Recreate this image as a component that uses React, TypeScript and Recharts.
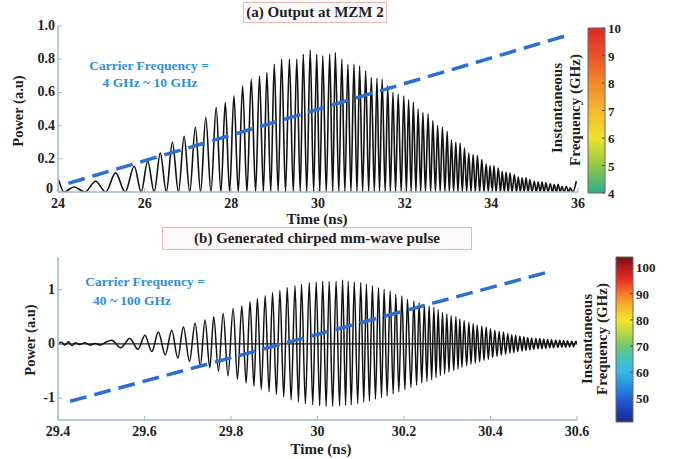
import React from 'react';
import { ComposedChart, Line, XAxis, YAxis, ReferenceLine, ReferenceArea } from 'recharts';

// ---------- Panel (a): Output at MZM 2 ----------
const xTicksA = [24, 26, 28, 30, 32, 34, 36];
const yTicksA = [0, 0.2, 0.4, 0.6, 0.8, 1.0];
const peakTimesA = [24.02, 24.37, 24.87, 25.33, 25.76, 26.07, 26.36, 26.64, 26.91, 27.17, 27.41, 27.65, 27.86, 28.06, 28.26, 28.46, 28.65, 28.82, 28.99, 29.16, 29.34, 29.51, 29.66, 29.82, 29.97, 30.11, 30.27, 30.40, 30.55, 30.69, 30.83, 30.96, 31.10, 31.23, 31.36, 31.48, 31.61, 31.73, 31.85, 31.98, 32.09, 32.20, 32.31, 32.42, 32.54, 32.65, 32.76, 32.87, 32.98, 33.08, 33.18, 33.28, 33.38, 33.48, 33.58, 33.68, 33.78, 33.88, 33.97, 34.06, 34.16, 34.25, 34.34, 34.43, 34.53, 34.62, 34.71, 34.80, 34.89, 34.99, 35.08, 35.17, 35.26, 35.36, 35.45, 35.54, 35.63, 35.73, 35.82, 35.96];
const peakPowerA = [0.07, 0.03, 0.065, 0.115, 0.155, 0.185, 0.235, 0.30, 0.335, 0.39, 0.45, 0.51, 0.54, 0.58, 0.64, 0.68, 0.70, 0.72, 0.77, 0.80, 0.80, 0.80, 0.83, 0.855, 0.83, 0.82, 0.83, 0.84, 0.80, 0.77, 0.77, 0.76, 0.73, 0.69, 0.685, 0.68, 0.64, 0.60, 0.59, 0.58, 0.555, 0.54, 0.50, 0.48, 0.47, 0.43, 0.40, 0.39, 0.365, 0.315, 0.30, 0.295, 0.265, 0.235, 0.225, 0.22, 0.195, 0.17, 0.16, 0.16, 0.145, 0.125, 0.12, 0.115, 0.105, 0.09, 0.085, 0.085, 0.075, 0.065, 0.06, 0.06, 0.055, 0.05, 0.045, 0.047, 0.035, 0.035, 0.025, 0.065];
const troughTimesA = [24.14, 24.62, 25.10, 25.55, 25.92, 26.22, 26.50, 26.78, 27.04, 27.29, 27.53, 27.76, 27.96, 28.16, 28.36, 28.56, 28.74, 28.91, 29.08, 29.25, 29.43, 29.59, 29.74, 29.90, 30.04, 30.19, 30.34, 30.48, 30.62, 30.76, 30.90, 31.03, 31.17, 31.30, 31.42, 31.55, 31.67, 31.79, 31.92, 32.04, 32.15, 32.26, 32.37, 32.48, 32.60, 32.71, 32.82, 32.93, 33.03, 33.13, 33.23, 33.33, 33.43, 33.53, 33.63, 33.73, 33.83, 33.93, 34.02, 34.11, 34.21, 34.30, 34.39, 34.48, 34.58, 34.67, 34.76, 34.85, 34.94, 35.04, 35.13, 35.22, 35.31, 35.41, 35.50, 35.59, 35.68, 35.78, 35.88];
const troughPowerA = 0;
const carrierTimesA = [24.24, 35.78];
const carrierLevelA = [0.052, 0.946];
const colorTicksA = [4, 5, 6, 7, 8, 9, 10];

// ---------- Panel (b): Generated chirped mm-wave pulse ----------
const xTicksB = [29.4, 29.6, 29.8, 30, 30.2, 30.4, 30.6];
const yTicksB = [-1, 0, 1];
const extremaTimesB = [
  29.400, 29.408, 29.416, 29.424, 29.432, 29.440, 29.450, 29.462, 29.474, 29.486, 29.498, 29.510,
  29.524, 29.545, 29.566, 29.585, 29.601, 29.617, 29.632, 29.648, 29.663, 29.677, 29.690, 29.704, 29.717, 29.729, 29.740, 29.751, 29.760, 29.771, 29.782, 29.793,
  29.805, 29.815, 29.825, 29.835, 29.844, 29.853, 29.861, 29.870, 29.879, 29.888, 29.896, 29.905, 29.913, 29.922, 29.930, 29.939, 29.948, 29.956, 29.963, 29.972, 29.981, 29.989, 29.997, 30.005,
  30.012, 30.020, 30.027, 30.035, 30.043, 30.051, 30.058, 30.065, 30.071, 30.078, 30.085, 30.093, 30.100, 30.107, 30.113, 30.120, 30.127, 30.134, 30.141, 30.148, 30.154, 30.161, 30.168, 30.175, 30.181, 30.188, 30.195, 30.202,
  30.208, 30.216, 30.223, 30.229, 30.235, 30.241, 30.247, 30.253, 30.258, 30.264, 30.269, 30.274, 30.279, 30.284, 30.289, 30.294, 30.299, 30.304, 30.309, 30.315, 30.320, 30.325, 30.329, 30.334, 30.339, 30.345, 30.350, 30.355, 30.360, 30.365, 30.369, 30.375, 30.380, 30.385, 30.390, 30.395, 30.400, 30.405, 30.410, 30.415, 30.420, 30.425, 30.430, 30.435, 30.440, 30.445, 30.449, 30.454, 30.458, 30.463, 30.468, 30.473, 30.477, 30.482, 30.486, 30.491, 30.495, 30.500, 30.505, 30.510, 30.514, 30.519, 30.523, 30.528, 30.532, 30.537, 30.541, 30.546, 30.551, 30.556, 30.560, 30.565, 30.569, 30.574, 30.578, 30.583, 30.588, 30.592, 30.597, 30.600,
];
const extremaValuesB = [
  0.00, 0.03, -0.02, 0.04, -0.03, 0.02, -0.01, 0.02, -0.02, 0.01, -0.02, 0.03,
  0.07, -0.07, 0.10, -0.10, 0.16, -0.14, 0.22, -0.20, 0.25, -0.26, 0.31, -0.32, 0.38, -0.40, 0.44, -0.44, 0.50, -0.50, 0.56, -0.59,
  0.65, -0.65, 0.70, -0.72, 0.78, -0.78, 0.84, -0.84, 0.885, -0.88, 0.945, -0.93, 0.99, -0.98, 1.04, -1.03, 1.07, -1.07, 1.10, -1.10, 1.13, -1.12, 1.14, -1.14,
  1.155, -1.15, 1.15, -1.15, 1.155, -1.14, 1.175, -1.13, 1.155, -1.12, 1.14, -1.10, 1.13, -1.07, 1.10, -1.05, 1.07, -1.02, 1.04, -0.99, 1.005, -0.96, 0.975, -0.92, 0.915, -0.88, 0.885, -0.84,
  0.825, -0.80, 0.79, -0.76, 0.76, -0.72, 0.715, -0.69, 0.70, -0.66, 0.67, -0.62, 0.63, -0.58, 0.58, -0.55, 0.55, -0.52, 0.52, -0.49, 0.50, -0.46, 0.46, -0.43, 0.43, -0.40, 0.40, -0.37, 0.37, -0.35, 0.35, -0.33, 0.33, -0.30, 0.31, -0.28, 0.28, -0.25, 0.25, -0.23, 0.23, -0.21, 0.22, -0.19, 0.19, -0.17, 0.17, -0.16, 0.16, -0.14, 0.14, -0.13, 0.13, -0.12, 0.12, -0.11, 0.11, -0.10, 0.10, -0.09, 0.10, -0.09, 0.09, -0.08, 0.08, -0.07, 0.075, -0.07, 0.07, -0.065, 0.07, -0.06, 0.065, -0.06, 0.06, -0.055, 0.055, -0.05, 0.05, 0.00,
];
const carrierTimesB = [29.428, 30.541];
const carrierLevelB = [-1.055, 1.34];
const colorTicksB = [50, 60, 70, 80, 90, 100];

// ---------- tables built from the arrays ----------
const waveA = [
  ...peakTimesA.map((t, i) => ({ t, p: peakPowerA[i] })),
  ...troughTimesA.map((t) => ({ t, p: troughPowerA })),
].sort((a, b) => a.t - b.t);
const dashA = carrierTimesA.map((t, i) => ({ t, d: carrierLevelA[i] }));
const n = Math.min(extremaTimesB.length, extremaValuesB.length);
const waveB = extremaTimesB.slice(0, n).map((t, i) => ({ t, v: extremaValuesB[i] }));
const dashB = carrierTimesB.map((t, i) => ({ t, d: carrierLevelB[i] }));

const FONT = 'Liberation Serif, DejaVu Serif, serif';
const AXIS = '#a3b7c9';
const INK = '#1e1e1e';
const BLUE = '#2b6fd3';
const TXTBLUE = '#2f8fd6';

const bottomTick = (fmt: (v: number) => string) => (props: any) => {
  const { x, y, payload } = props;
  return (
    <g>
      <line x1={x} y1={y} x2={x} y2={y - 4} stroke={AXIS} strokeWidth={1} />
      <text x={x} y={y + 16} textAnchor="middle" style={{ fontFamily: FONT }} fontWeight="bold" fontSize={14} fill={INK}>
        {fmt(payload.value)}
      </text>
    </g>
  );
};

const leftTick = (fmt: (v: number) => string, liftZero: boolean) => (props: any) => {
  const { x, y, payload } = props;
  const atZero = liftZero && payload.value === 0;
  return (
    <g>
      <line x1={x} y1={y} x2={x + 4} y2={y} stroke={AXIS} strokeWidth={1} />
      <text
        x={atZero ? x - 5 : x - 3}
        y={atZero ? y + 1 : y + 4}
        textAnchor="end"
        style={{ fontFamily: FONT }}
        fontWeight="bold"
        fontSize={14}
        fill={INK}
      >
        {fmt(payload.value)}
      </text>
    </g>
  );
};

const rightTick = (props: any) => {
  const { x, y, payload } = props;
  return (
    <g>
      <line x1={x} y1={y} x2={x - 3} y2={y} stroke="#555" strokeWidth={1} />
      <text x={x + 3} y={y + 5} textAnchor="start" style={{ fontFamily: FONT }} fontWeight="bold" fontSize={13} fill={INK}>
        {payload.value}
      </text>
    </g>
  );
};

const fmtAx = (v: number) => String(v);
const fmtAy = (v: number) => (v === 0 ? '0' : v.toFixed(1));
const fmtBx = (v: number) => (Number.isInteger(v) ? String(v) : v.toFixed(1));
const fmtBy = (v: number) => String(v);

const textBase: React.CSSProperties = {
  position: 'absolute',
  fontFamily: FONT,
  fontWeight: 'bold',
  whiteSpace: 'nowrap',
  lineHeight: 1,
  color: INK,
};

const Centered = ({ cx, cy, size, color, rotate, children }: any) => (
  <div
    style={{
      ...textBase,
      left: cx,
      top: cy,
      fontSize: size,
      color: color || INK,
      transform: `translate(-50%, -50%)${rotate ? ' rotate(-90deg)' : ''}`,
    }}
  >
    {children}
  </div>
);

const TitleBox = ({ left, top, width, height, children }: any) => (
  <div
    style={{
      ...textBase,
      left,
      top,
      width,
      height,
      boxSizing: 'border-box',
      border: '1.5px solid #f0b4b4',
      background: '#fffafa',
      display: 'flex',
      alignItems: 'center',
      justifyContent: 'center',
      fontSize: 15,
    }}
  >
    {children}
  </div>
);

const ColorBar = ({ left, top, width, height, margin, domain, ticks, grad }: any) => (
  <div style={{ position: 'absolute', left, top }}>
    <ComposedChart width={width} height={height} margin={margin} data={[{ x: 0, y: domain[0] }, { x: 1, y: domain[1] }]}>
      <XAxis dataKey="x" type="number" domain={[0, 1]} hide />
      <YAxis
        orientation="right"
        type="number"
        domain={domain}
        ticks={ticks}
        allowDataOverflow
        width={32}
        axisLine={false}
        tickSize={0}
        tickMargin={0}
        tick={rightTick}
        interval={0}
      />
      <ReferenceArea x1={0} x2={1} y1={domain[0]} y2={domain[1]} fill={`url(#${grad})`} fillOpacity={1} stroke="#666" strokeWidth={1} ifOverflow="visible" />
      <Line dataKey="y" stroke="none" dot={false} isAnimationActive={false} />
    </ComposedChart>
  </div>
);

export default function App() {
  return (
    <div style={{ position: 'absolute', left: 0, top: 0, width: 676, height: 459, background: '#ffffff', overflow: 'hidden' }}>
      <svg width={0} height={0} style={{ position: 'absolute' }}>
        <defs>
          <linearGradient id="cbA" x1="0" y1="1" x2="0" y2="0">
            <stop offset="0%" stopColor="#2fae8f" />
            <stop offset="17%" stopColor="#94c842" />
            <stop offset="33%" stopColor="#ece22a" />
            <stop offset="50%" stopColor="#f7b62c" />
            <stop offset="67%" stopColor="#f2882a" />
            <stop offset="83%" stopColor="#ea5428" />
            <stop offset="100%" stopColor="#dc2828" />
          </linearGradient>
          <linearGradient id="cbB" x1="0" y1="1" x2="0" y2="0">
            <stop offset="0%" stopColor="#1c2a8c" />
            <stop offset="7%" stopColor="#1f3fb4" />
            <stop offset="14%" stopColor="#2160d8" />
            <stop offset="22%" stopColor="#2a8ee0" />
            <stop offset="30%" stopColor="#38b8e8" />
            <stop offset="38%" stopColor="#45c3c0" />
            <stop offset="46%" stopColor="#6cc870" />
            <stop offset="54%" stopColor="#b8d840" />
            <stop offset="62%" stopColor="#f6e42a" />
            <stop offset="70%" stopColor="#f7b42a" />
            <stop offset="78%" stopColor="#f07b28" />
            <stop offset="86%" stopColor="#e63226" />
            <stop offset="94%" stopColor="#b5181e" />
            <stop offset="100%" stopColor="#6a1212" />
          </linearGradient>
        </defs>
      </svg>

      {/* Panel (a) */}
      <div style={{ position: 'absolute', left: 0, top: 0 }}>
        <ComposedChart width={676} height={230} margin={{ top: 26, right: 98, bottom: 8, left: 0 }}>
          <XAxis
            dataKey="t"
            type="number"
            domain={[24, 36]}
            ticks={xTicksA}
            allowDataOverflow
            height={30}
            axisLine={{ stroke: AXIS, strokeWidth: 1.5 }}
            tickSize={0}
            tickMargin={0}
            tick={bottomTick(fmtAx)}
            interval={0}
          />
          <YAxis
            type="number"
            domain={[0, 1]}
            ticks={yTicksA}
            allowDataOverflow
            width={58}
            axisLine={{ stroke: AXIS, strokeWidth: 1.5 }}
            tickSize={0}
            tickMargin={0}
            tick={leftTick(fmtAy, true)}
            interval={0}
          />
          <Line data={waveA} dataKey="p" type="monotone" stroke="#111" strokeWidth={1.6} dot={false} isAnimationActive={false} />
          <Line data={dashA} dataKey="d" type="linear" stroke={BLUE} strokeWidth={3.5} strokeDasharray="17 8" dot={false} isAnimationActive={false} />
        </ComposedChart>
      </div>
      <ColorBar left={560} top={0} width={80} height={230} margin={{ top: 28, right: 3, bottom: 37, left: 28 }} domain={[4, 10]} ticks={colorTicksA} grad="cbA" />

      {/* Panel (b) */}
      <div style={{ position: 'absolute', left: 0, top: 230 }}>
        <ComposedChart width={676} height={229} margin={{ top: 27, right: 99, bottom: 9, left: 0 }}>
          <XAxis
            dataKey="t"
            type="number"
            domain={[29.4, 30.6]}
            ticks={xTicksB}
            allowDataOverflow
            height={30}
            axisLine={{ stroke: AXIS, strokeWidth: 1.5 }}
            tickSize={0}
            tickMargin={0}
            tick={bottomTick(fmtBx)}
            interval={0}
          />
          <YAxis
            type="number"
            domain={[-1.4, 1.6]}
            ticks={yTicksB}
            allowDataOverflow
            width={58}
            axisLine={{ stroke: AXIS, strokeWidth: 1.5 }}
            tickSize={0}
            tickMargin={0}
            tick={leftTick(fmtBy, false)}
            interval={0}
          />
          <ReferenceLine y={0} stroke="#222" strokeWidth={1.2} />
          <Line data={waveB} dataKey="v" type="monotone" stroke="#111" strokeWidth={1.5} dot={false} isAnimationActive={false} />
          <Line data={dashB} dataKey="d" type="linear" stroke={BLUE} strokeWidth={3.5} strokeDasharray="17 8" dot={false} isAnimationActive={false} />
        </ComposedChart>
      </div>
      <ColorBar left={590} top={230} width={80} height={229} margin={{ top: 27, right: 5, bottom: 37, left: 26 }} domain={[41, 104]} ticks={colorTicksB} grad="cbB" />

      {/* Text overlays */}
      <TitleBox left={243} top={2} width={144} height={21}>(a) Output at MZM 2</TitleBox>
      <TitleBox left={162} top={227} width={310} height={23}>(b) Generated chirped mm-wave pulse</TitleBox>

      <Centered cx={149} cy={66} size={13.5} color={TXTBLUE}>Carrier Frequency =</Centered>
      <Centered cx={150} cy={83} size={13.5} color={TXTBLUE}>4 GHz ~ 10 GHz</Centered>
      <Centered cx={145} cy={282} size={13.5} color={TXTBLUE}>Carrier Frequency =</Centered>
      <Centered cx={132} cy={301} size={13.5} color={TXTBLUE}>40 ~ 100 GHz</Centered>

      <Centered cx={18} cy={111} size={14.5} rotate>Power (a.u)</Centered>
      <Centered cx={30} cy={340} size={14.5} rotate>Power (a.u)</Centered>
      <Centered cx={317} cy={219} size={15}>Time (ns)</Centered>
      <Centered cx={321} cy={449} size={15}>Time (ns)</Centered>

      <Centered cx={557} cy={108} size={15} rotate>Instantaneous</Centered>
      <Centered cx={575} cy={110} size={15} rotate>Frequency (GHz)</Centered>
      <Centered cx={587} cy={339} size={15} rotate>Instantaneous</Centered>
      <Centered cx={602} cy={339} size={15} rotate>Frequency (GHz)</Centered>
    </div>
  );
}
